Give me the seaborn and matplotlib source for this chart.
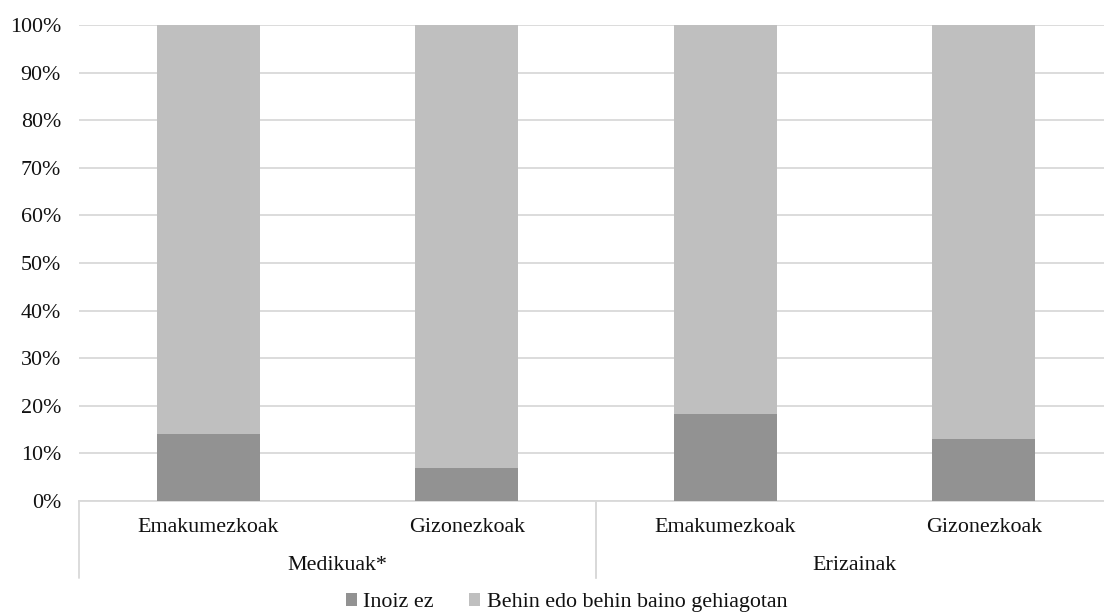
import matplotlib
matplotlib.use("Agg")
import matplotlib.pyplot as plt
import matplotlib.transforms as mtransforms
from matplotlib.patches import Patch
from matplotlib.font_manager import FontProperties
import seaborn as sns
import pandas as pd

# Data
groups = ["Medikuak*", "Medikuak*", "Erizainak", "Erizainak"]
subgroups = ["Emakumezkoak", "Gizonezkoak", "Emakumezkoak", "Gizonezkoak"]
inoiz_ez = [14, 7, 18.3, 13.1]
behin_edo_gehiago = [100 - v for v in inoiz_ez]
series_names = ["Inoiz ez", "Behin edo behin baino gehiagotan"]
ytick_labels = [f"{v}%" for v in range(0, 101, 10)]

dark = "#929292"
light = "#bfbfbf"
grid_col = "#d9d9d9"
text_col = "#111111"

sns.set_theme(style="white")
FAMILY = "Liberation Serif"
plt.rcParams["font.family"] = [FAMILY, "DejaVu Serif"]

FS = 15.8
W, H = 1104, 614
fig = plt.figure(figsize=(W / 100, H / 100), dpi=100)
left_px, right_px, top_px, bottom_px = 79, 1113, 25, 501
ax = fig.add_axes([left_px / W, 1 - bottom_px / H,
                   (right_px - left_px) / W, (bottom_px - top_px) / H])

slot = list(range(len(subgroups)))
df = pd.DataFrame({
    "slot": slot,
    "inoiz": inoiz_ez,
    "total": [a + b for a, b in zip(inoiz_ez, behin_edo_gehiago)],
})

# Stacked bars: total first (light), bottom segment on top (dark)
sns.barplot(data=df, x="slot", y="total", color=light, width=0.4,
            saturation=1, ax=ax, zorder=2, linewidth=0)
sns.barplot(data=df, x="slot", y="inoiz", color=dark, width=0.4,
            saturation=1, ax=ax, zorder=3, linewidth=0)

ax.set_xlim(-0.5, len(slot) - 0.5)
ax.set_ylim(0, 100)
ax.set_yticks(range(0, 101, 10))
ax.set_yticklabels(ytick_labels, fontsize=FS, color=text_col, family=FAMILY)
ax.yaxis.grid(True, color=grid_col, linewidth=1.3, zorder=0)
ax.set_axisbelow(True)
ax.tick_params(axis="y", length=0, pad=13)
ax.set_xlabel("")
ax.set_ylabel("")

for s in ["top", "right", "left"]:
    ax.spines[s].set_visible(False)
ax.spines["bottom"].set_color(grid_col)
ax.spines["bottom"].set_linewidth(1.3)

ax.set_xticks(slot)
ax.set_xticklabels(subgroups, fontsize=FS, color=text_col, family=FAMILY)
ax.tick_params(axis="x", length=0, pad=12)

# Group labels and separators below the axis
trans = mtransforms.blended_transform_factory(ax.transData, ax.transAxes)
sep_bottom = -(578 - bottom_px) / (bottom_px - top_px)
group_label_y = -(566 - bottom_px) / (bottom_px - top_px)
unique_groups = []
for g in groups:
    if g not in unique_groups:
        unique_groups.append(g)
for g in unique_groups:
    idx = [i for i, gg in enumerate(groups) if gg == g]
    lo, hi = idx[0] - 0.5, idx[-1] + 0.5
    ax.text((lo + hi) / 2, group_label_y, g, transform=trans,
            ha="center", va="center", fontsize=FS, color=text_col,
            family=FAMILY)
    for xb in (lo, hi):
        ax.plot([xb, xb], [0, sep_bottom], transform=trans, color=grid_col,
                linewidth=1.3, clip_on=False)

handles = [Patch(facecolor=dark, edgecolor="none"),
           Patch(facecolor=light, edgecolor="none")]
leg = fig.legend(handles, series_names, loc="lower center", ncol=2,
                 frameon=False, prop=FontProperties(family=FAMILY, size=FS),
                 handlelength=0.5, handleheight=0.5, handletextpad=0.3,
                 columnspacing=1.6, borderpad=0.2,
                 bbox_to_anchor=(0.513, -0.022))
for t in leg.get_texts():
    t.set_color(text_col)

fig.savefig("out.png", dpi=100, facecolor="white")
